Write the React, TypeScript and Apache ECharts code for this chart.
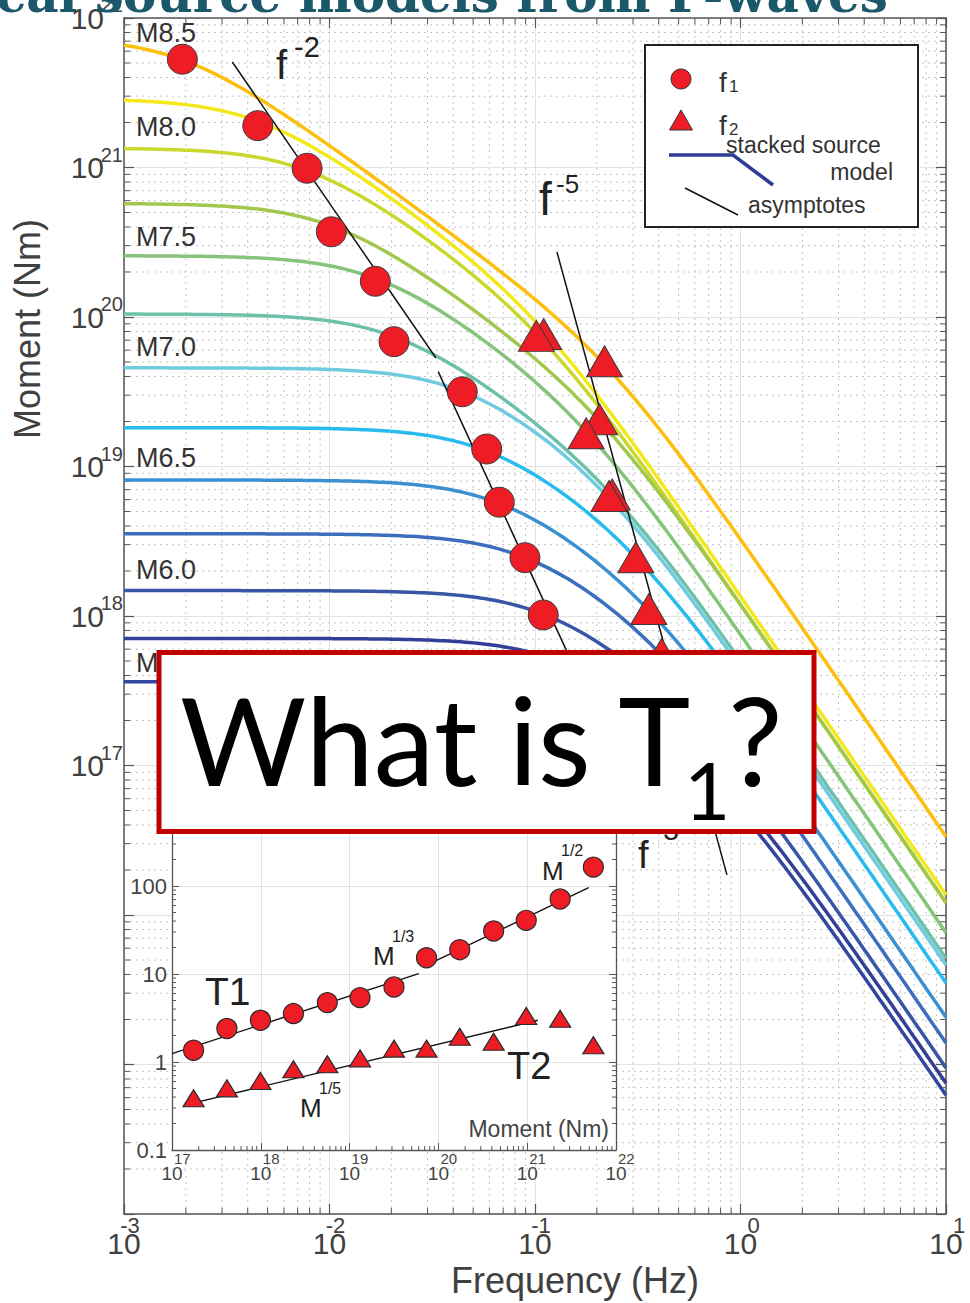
import React, { useEffect, useRef } from "react";
import * as echarts from "echarts";

// ---------------- data ----------------
const MAG_LABELS = ["M8.5", "M8.0", "M7.5", "M7.0", "M6.5", "M6.0", "M5.5"];

// stacked source model parameters (largest event first): log10 M0, log10 f1, log10 f2
const MODEL_LOG_M0 = [21.87, 21.46, 21.13, 20.76, 20.41, 20.02, 19.66, 19.26, 18.91, 18.55, 18.17, 17.85, 17.56];
const MODEL_LOG_F1 = [-2.716, -2.349, -2.109, -1.991, -1.777, -1.686, -1.354, -1.235, -1.174, -1.049, -0.96, -0.877, -0.631];
const MODEL_LOG_F2 = [-0.63, -0.977, -0.941, -0.686, -0.751, -0.624, -0.64, -0.48, -0.42, -0.357, -0.232, -0.097, -0.133];
const CURVE_COLORS = [
  "#fcbf0f", "#f3e81b", "#c9d82c", "#a1c84c", "#86c47c", "#6dc1aa", "#6fcbe0",
  "#28bcee", "#3a90d0", "#3b6ebd", "#3856a6", "#323f98", "#3346a0",
];

// corner-frequency markers
const F1_FREQ = [0.001923, 0.004477, 0.00778, 0.010209, 0.016711, 0.020606, 0.044259, 0.05821, 0.066988, 0.08933, 0.109648, 0.132739, 0.233884];
const F1_MOMENT = [5.3e21, 1.905e21, 9.886e20, 3.715e20, 1.734e20, 6.84e19, 3.16e19, 1.309e19, 5.77e18, 2.455e18, 1.016e18, 3.55e17, 2.0e17];
const F2_FREQ = [0.2179, 0.1102, 0.1015, 0.206, 0.1774, 0.2375, 0.2291, 0.3094, 0.3579, 0.4136, 0.586, 0.794, 0.891];
const F2_MOMENT = [5.06e19, 7.69e19, 7.48e19, 2.07e19, 1.667e19, 6.5e18, 6.35e18, 2.47e18, 1.114e18, 5.58e17, 1.95e17, 8.9e16, 5.6e16];

// asymptote segments [frequency, moment]
const ASYMPTOTE_F2 = [[0.003365, 5.08e21], [0.03296, 5.32e19]];
const ASYMPTOTE_F3 = [[0.03381, 4.315e19], [0.1995, 2.14e17]];
const ASYMPTOTE_F5 = [[0.1279, 2.72e20], [0.859, 1.854e16]];

// inset: durations vs moment
const INSET_MOMENT = [1.75e17, 4.15e17, 9.9e17, 2.33e18, 5.61e18, 1.31e19, 3.16e19, 7.35e19, 1.74e20, 4.19e20, 9.75e20, 2.35e21, 5.56e21];
const INSET_T1 = [1.36, 2.4, 2.98, 3.55, 4.73, 5.39, 7.11, 15.3, 18.9, 30.8, 40.7, 71.1, 164];
const INSET_T2 = [0.387, 0.502, 0.608, 0.826, 0.942, 1.1, 1.42, 1.42, 1.94, 1.7, 3.33, 3.1, 1.55];
const FIT_T1_LOW = [[1e17, 1.246], [6.01e19, 10.1]];
const FIT_T1_HIGH = [[7.98e19, 13.1], [4.92e21, 95.9]];
const FIT_T2 = [[1.35e17, 0.322], [1.315e21, 2.98]];

// ---------------- helpers ----------------
const FONT = '"Liberation Sans", Arial, Helvetica, sans-serif';
const RED = "#ee1d25";

function modelCurve(i: number) {
  const pts: number[][] = [];
  const f1 = Math.pow(10, MODEL_LOG_F1[i]);
  const f2 = Math.pow(10, MODEL_LOG_F2[i]);
  for (let j = 0; j <= 200; j++) {
    const f = Math.pow(10, -3 + (j * 4) / 200);
    const lm = MODEL_LOG_M0[i] - 0.5 * (Math.log10(1 + (f / f1) ** 2) + Math.log10(1 + (f / f2) ** 2));
    pts.push([f, Math.pow(10, lm)]);
  }
  return pts;
}

function minorTicks(xDecades: number[], yDecades: number[], xRef: number, yRef: number) {
  const out: number[][] = [];
  xDecades.forEach((d) => { for (let k = 2; k <= 9; k++) out.push([k * Math.pow(10, d), yRef, 0]); });
  yDecades.forEach((d) => { for (let k = 2; k <= 9; k++) out.push([xRef, k * Math.pow(10, d), 1]); });
  return out;
}

function makeMinorRenderer(tickLen: number, dotted: boolean) {
  return (params: any, api: any) => {
    const cs = params.coordSys;
    const kind = api.value(2);
    const p = api.coord([api.value(0), api.value(1)]);
    const stroke = "#555";
    const children: any[] = [];
    if (kind === 0) {
      const x = p[0];
      if (dotted) children.push({ type: "line", shape: { x1: x, y1: cs.y, x2: x, y2: cs.y + cs.height }, style: { stroke: "#c4c4c4", lineWidth: 1, lineDash: [2, 4] } });
      children.push({ type: "line", shape: { x1: x, y1: cs.y + cs.height, x2: x, y2: cs.y + cs.height - tickLen }, style: { stroke, lineWidth: 1 } });
      children.push({ type: "line", shape: { x1: x, y1: cs.y, x2: x, y2: cs.y + tickLen }, style: { stroke, lineWidth: 1 } });
    } else {
      const y = p[1];
      if (dotted) children.push({ type: "line", shape: { x1: cs.x, y1: y, x2: cs.x + cs.width, y2: y }, style: { stroke: "#c4c4c4", lineWidth: 1, lineDash: [2, 4] } });
      children.push({ type: "line", shape: { x1: cs.x, y1: y, x2: cs.x + tickLen, y2: y }, style: { stroke, lineWidth: 1 } });
      children.push({ type: "line", shape: { x1: cs.x + cs.width, y1: y, x2: cs.x + cs.width - tickLen, y2: y }, style: { stroke, lineWidth: 1 } });
    }
    return { type: "group", children };
  };
}

const exp10 = (v: number) => Math.round(Math.log10(v));

function txt(text: string, x: number, y: number, size: number, opts: any = {}) {
  return {
    type: "text", x, y, z: opts.z ?? 40, rotation: opts.rotation ?? 0,
    style: {
      text, fontSize: size, fontFamily: opts.family ?? FONT, fontWeight: opts.weight ?? "normal",
      fill: opts.color ?? "#333", align: opts.align ?? "left", verticalAlign: "middle",
    },
  };
}

function buildOption() {
  const axisLineStyle = { color: "#555", width: 1.5 };
  const mainX = { type: "log", logBase: 10, gridIndex: 0, min: 1e-3, max: 10, splitNumber: 4 };
  const mainY = { type: "log", logBase: 10, gridIndex: 0, min: 1e14, max: 1e22, splitNumber: 8 };
  const insetX = { type: "log", logBase: 10, gridIndex: 1, min: 1e17, max: 1e22, splitNumber: 5, z: 6 };
  const insetY = { type: "log", logBase: 10, gridIndex: 1, min: 0.1, max: 1000, splitNumber: 4, z: 6 };
  const noLabel = { show: false };

  const xAxis = [
    {
      ...mainX, position: "bottom",
      axisLine: { show: true, lineStyle: axisLineStyle },
      axisTick: { show: true, inside: true, length: 10, lineStyle: { color: "#555", width: 1.2 } },
      splitLine: { show: true, lineStyle: { color: "#e2e2e2", width: 1 } },
      axisLabel: { show: true, formatter: () => "10", fontSize: 30, fontFamily: FONT, color: "#404040", margin: 14, showMinLabel: true, showMaxLabel: true, hideOverlap: false },
    },
    {
      ...mainX, position: "top",
      axisLine: { show: true, lineStyle: axisLineStyle },
      axisTick: { show: true, inside: true, length: 10, lineStyle: { color: "#555", width: 1.2 } },
      splitLine: { show: false }, axisLabel: noLabel,
    },
    {
      ...mainX, position: "bottom",
      axisLine: { show: false }, axisTick: { show: false }, splitLine: { show: false },
      axisLabel: {
        show: true, margin: 0, showMinLabel: true, showMaxLabel: true, hideOverlap: false,
        formatter: (v: number) => { const e = exp10(v); return e < 0 ? `{n|${e}}` : `{p|${e}}`; },
        rich: {
          n: { fontSize: 22, fontFamily: FONT, color: "#404040", padding: [0, 0, 0, 12] },
          p: { fontSize: 22, fontFamily: FONT, color: "#404040", padding: [0, 0, 0, 26] },
        },
      },
    },
    {
      ...insetX, position: "bottom",
      axisLine: { show: true, lineStyle: { color: "#555", width: 1.3 } },
      axisTick: { show: true, inside: true, length: 7, lineStyle: { color: "#555" } },
      splitLine: { show: true, lineStyle: { color: "#e2e2e2", width: 1 } },
      axisLabel: { show: true, formatter: () => "10", fontSize: 19, fontFamily: FONT, color: "#444", margin: 14, showMinLabel: true, showMaxLabel: true, hideOverlap: false },
    },
    {
      ...insetX, position: "bottom",
      axisLine: { show: false }, axisTick: { show: false }, splitLine: { show: false },
      axisLabel: { show: true, formatter: (v: number) => String(exp10(v)), fontSize: 15, fontFamily: FONT, color: "#444", margin: 1, align: "left", padding: [0, 0, 0, 2], showMinLabel: true, showMaxLabel: true, hideOverlap: false },
    },
  ];

  const yAxis = [
    {
      ...mainY, position: "left",
      axisLine: { show: true, lineStyle: axisLineStyle },
      axisTick: { show: true, inside: true, length: 10, lineStyle: { color: "#555", width: 1.2 } },
      splitLine: { show: true, lineStyle: { color: "#e2e2e2", width: 1 } },
      axisLabel: { show: true, formatter: (v: number) => (exp10(v) >= 17 ? "10" : ""), fontSize: 30, fontFamily: FONT, color: "#404040", margin: 20, showMinLabel: true, showMaxLabel: true, hideOverlap: false },
    },
    {
      ...mainY, position: "right",
      axisLine: { show: true, lineStyle: axisLineStyle },
      axisTick: { show: true, inside: true, length: 10, lineStyle: { color: "#555", width: 1.2 } },
      splitLine: { show: false }, axisLabel: noLabel,
    },
    {
      ...mainY, position: "left",
      axisLine: { show: false }, axisTick: { show: false }, splitLine: { show: false },
      axisLabel: { show: true, formatter: (v: number) => (exp10(v) >= 17 ? String(exp10(v)) : ""), fontSize: 20, fontFamily: FONT, color: "#404040", margin: 1, verticalAlign: "bottom", padding: [0, 0, 3, 0], showMinLabel: true, showMaxLabel: true, hideOverlap: false },
    },
    {
      ...insetY, position: "left",
      axisLine: { show: true, lineStyle: { color: "#555", width: 1.3 } },
      axisTick: { show: true, inside: true, length: 7, lineStyle: { color: "#555" } },
      splitLine: { show: true, lineStyle: { color: "#e2e2e2", width: 1 } },
      axisLabel: { show: true, formatter: (v: number) => { const e = exp10(v); return e < 0 ? "0.1" : e > 2 ? "" : String(Math.pow(10, e)); }, fontSize: 22, fontFamily: FONT, color: "#444", margin: 5, showMinLabel: true, showMaxLabel: true, hideOverlap: false },
    },
    {
      ...insetY, position: "right",
      axisLine: { show: true, lineStyle: { color: "#555", width: 1.3 } },
      axisTick: { show: true, inside: true, length: 7, lineStyle: { color: "#555" } },
      splitLine: { show: false }, axisLabel: noLabel,
    },
  ];

  const series: any[] = [];
  series.push({
    type: "custom", xAxisIndex: 0, yAxisIndex: 0, z: 1, silent: true, clip: false,
    data: minorTicks([-3, -2, -1, 0], [14, 15, 16, 17, 18, 19, 20, 21], 0.01, 1e18),
    encode: { x: 0, y: 1 }, renderItem: makeMinorRenderer(6, true),
  });
  MODEL_LOG_M0.forEach((_, i) => {
    series.push({
      type: "line", xAxisIndex: 0, yAxisIndex: 0, z: 2, silent: true, symbol: "none", showSymbol: false,
      data: modelCurve(i), lineStyle: { color: CURVE_COLORS[i], width: 3.5 },
    });
  });
  [ASYMPTOTE_F2, ASYMPTOTE_F3, ASYMPTOTE_F5].forEach((seg) => {
    series.push({
      type: "line", xAxisIndex: 0, yAxisIndex: 0, z: 3, silent: true, symbol: "none", showSymbol: false,
      data: seg, lineStyle: { color: "#111", width: 1.5 },
    });
  });
  series.push({
    type: "scatter", xAxisIndex: 0, yAxisIndex: 0, z: 4, silent: true, symbol: "circle", symbolSize: 30,
    data: F1_FREQ.map((f, i) => [f, F1_MOMENT[i]]),
    itemStyle: { color: RED, borderColor: "#3a3a3a", borderWidth: 1, opacity: 1 },
  });
  series.push({
    type: "scatter", xAxisIndex: 0, yAxisIndex: 0, z: 4, silent: true, symbol: "triangle", symbolSize: [36, 31],
    data: F2_FREQ.map((f, i) => [f, F2_MOMENT[i]]),
    itemStyle: { color: RED, borderColor: "#3a3a3a", borderWidth: 1, opacity: 1 },
  });

  // inset
  series.push({
    type: "custom", xAxisIndex: 3, yAxisIndex: 3, z: 5, silent: true, clip: false,
    data: [[1e19, 1]], encode: { x: 0, y: 1 },
    renderItem: (params: any) => {
      const cs = params.coordSys;
      return { type: "rect", shape: { x: cs.x, y: cs.y, width: cs.width, height: cs.height }, style: { fill: "#fff" } };
    },
  });
  series.push({
    type: "custom", xAxisIndex: 3, yAxisIndex: 3, z: 7, silent: true, clip: false,
    data: minorTicks([17, 18, 19, 20, 21], [-1, 0, 1, 2], 1e19, 1),
    encode: { x: 0, y: 1 }, renderItem: makeMinorRenderer(4, false),
  });
  [FIT_T1_LOW, FIT_T1_HIGH, FIT_T2].forEach((seg) => {
    series.push({
      type: "line", xAxisIndex: 3, yAxisIndex: 3, z: 8, silent: true, symbol: "none", showSymbol: false,
      data: seg, lineStyle: { color: "#111", width: 1.4 },
    });
  });
  series.push({
    type: "scatter", xAxisIndex: 3, yAxisIndex: 3, z: 9, silent: true, symbol: "circle", symbolSize: 20,
    data: INSET_MOMENT.map((m, i) => [m, INSET_T1[i]]),
    itemStyle: { color: RED, borderColor: "#2a2a2a", borderWidth: 1.2, opacity: 1 },
  });
  series.push({
    type: "scatter", xAxisIndex: 3, yAxisIndex: 3, z: 9, silent: true, symbol: "triangle", symbolSize: [21, 17],
    data: INSET_MOMENT.map((m, i) => [m, INSET_T2[i]]),
    itemStyle: { color: RED, borderColor: "#2a2a2a", borderWidth: 1.2, opacity: 1 },
  });

  const labelY = [33, 127, 237, 347, 458, 570, 663];
  const graphic: any[] = [
    txt("Empirical source models from P-waves", 888, -6, 50, { family: '"DejaVu Serif", serif', weight: "bold", color: "#1b596a", align: "right" }),
    txt("Moment (Nm)", 27, 329, 36, { rotation: Math.PI / 2, align: "center", color: "#404040" }),
    txt("Frequency (Hz)", 575, 1280, 36, { align: "center", color: "#404040" }),
    ...MAG_LABELS.map((m, i) => txt(m, 136, labelY[i], 27, { color: "#333" })),
    txt("f", 276, 65, 40, { color: "#222" }),
    txt("-2", 294, 47, 29, { color: "#222" }),
    txt("f", 539, 199, 46, { color: "#222" }),
    txt("-5", 556, 184, 26, { color: "#222" }),
    txt("f", 638, 855, 38, { color: "#222" }),
    txt("-3", 654, 830, 28, { color: "#222" }),
    // inset annotations
    txt("T1", 205, 991, 39, { color: "#222" }),
    txt("T2", 507, 1066, 38, { color: "#222" }),
    txt("M", 373, 956, 26, { color: "#222" }),
    txt("1/3", 392, 936, 16, { color: "#222" }),
    txt("M", 542, 871, 26, { color: "#222" }),
    txt("1/2", 561, 850, 16, { color: "#222" }),
    txt("M", 300, 1108, 26, { color: "#222" }),
    txt("1/5", 319, 1088, 16, { color: "#222" }),
    txt("Moment (Nm)", 609, 1129, 23, { color: "#444", align: "right" }),
    // legend
    { type: "rect", z: 50, shape: { x: 645, y: 45, width: 273, height: 182 }, style: { fill: "#fff", stroke: "#222", lineWidth: 2 } },
    { type: "circle", z: 51, shape: { cx: 681, cy: 79, r: 10 }, style: { fill: RED, stroke: "#333", lineWidth: 1 } },
    { type: "polygon", z: 51, shape: { points: [[681, 110], [669.5, 130], [692.5, 130]] }, style: { fill: RED, stroke: "#333", lineWidth: 1 } },
    txt("f", 719, 82, 28, { z: 51 }),
    txt("1", 729, 86, 17, { z: 51 }),
    txt("f", 719, 125, 28, { z: 51 }),
    txt("2", 729, 129, 17, { z: 51 }),
    { type: "polyline", z: 51, shape: { points: [[669, 155], [733, 155], [773, 185]] }, style: { stroke: "#2e3d96", lineWidth: 3.5, fill: null } },
    txt("stacked source", 726, 145, 23, { z: 52 }),
    txt("model", 893, 172, 23, { z: 52, align: "right" }),
    { type: "line", z: 51, shape: { x1: 685, y1: 188, x2: 738, y2: 215 }, style: { stroke: "#111", lineWidth: 1.5 } },
    txt("asymptotes", 748, 205, 23, { z: 52 }),
    // question box
    { type: "rect", z: 90, shape: { x: 159, y: 652.5, width: 655, height: 179 }, style: { fill: "#fff", stroke: "#c00000", lineWidth: 5 } },
    txt("What is T", 180, 739, 122, { z: 91, family: "Lato, 'Open Sans', sans-serif", color: "#000" }),
    txt("1", 684, 789, 80, { z: 91, family: "Lato, 'Open Sans', sans-serif", color: "#000" }),
    txt("?", 728, 739, 122, { z: 91, family: "Lato, 'Open Sans', sans-serif", color: "#000" }),
  ];

  return {
    animation: false,
    backgroundColor: "#fff",
    grid: [
      { left: 124, top: 18, width: 822, height: 1196, containLabel: false, outerBoundsMode: "none" },
      { left: 172, top: 798, width: 444, height: 352, containLabel: false, outerBoundsMode: "none" },
    ],
    xAxis,
    yAxis,
    series,
    graphic: { elements: graphic },
  };
}

export default function App() {
  const ref = useRef<HTMLDivElement>(null);
  useEffect(() => {
    document.body.style.margin = "0";
    const chart = echarts.init(ref.current as HTMLDivElement, null, { renderer: "svg" });
    chart.setOption(buildOption() as any);
    return () => chart.dispose();
  }, []);
  return <div ref={ref} style={{ width: 970, height: 1303 }} />;
}
